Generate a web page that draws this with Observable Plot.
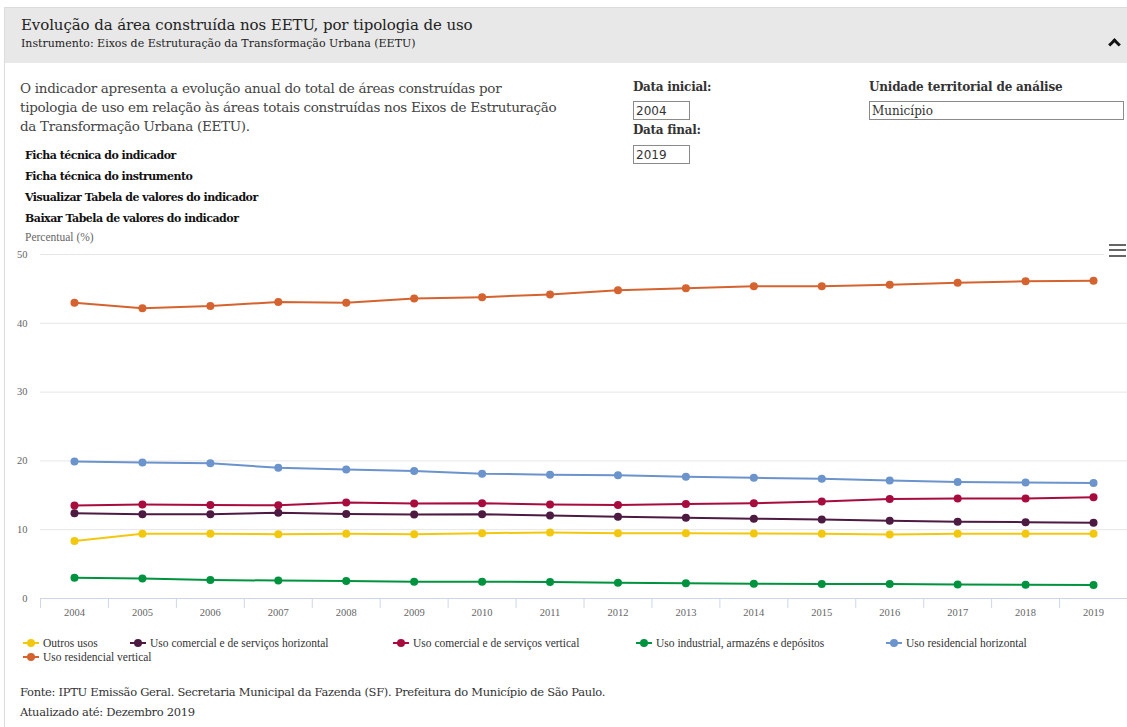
<!DOCTYPE html>
<html><head><meta charset="utf-8">
<script src="https://cdn.jsdelivr.net/npm/d3@7"></script>
<script src="https://cdn.jsdelivr.net/npm/@observablehq/plot@0.6"></script>
<style>
html,body{margin:0;padding:0;background:#fff;}
body{width:1127px;height:727px;position:relative;overflow:hidden;font-family:"DejaVu Serif",serif;}
.t{position:absolute;line-height:0;white-space:nowrap;}
#panel{position:absolute;left:4px;top:7px;width:1140px;height:730px;border-left:1px solid #dcdcdc;border-top:1px solid #dcdcdc;}
#header{position:absolute;left:5px;top:8px;width:1130px;height:55px;background:#e8e8e8;}
.box{position:absolute;border:1px solid #8a8a8a;box-sizing:border-box;height:19px;background:#fff;}
.box span{position:absolute;left:2px;top:9px;line-height:0;color:#333;}
#chev{position:absolute;left:1110px;top:40px;width:6px;height:6px;border-top:3px solid #111;border-left:3px solid #111;transform:rotate(45deg);}
#burger{position:absolute;left:1104px;top:239px;width:23px;height:22px;background:#fff;}
#burger div{position:absolute;left:5px;width:17px;height:2px;background:#666;}
#chart{position:absolute;left:0;top:244px;}
.leg{position:absolute;height:14px;}
.leg .ln{position:absolute;left:0;top:6px;width:16px;height:2px;}
.leg .dt{position:absolute;left:4px;top:3px;width:8px;height:8px;border-radius:50%;}
.leg .tx{position:absolute;left:20px;top:7px;line-height:0;white-space:nowrap;font-family:"Liberation Serif",serif;font-size:11.5px;color:#333;}
</style>
</head><body>
<div id="panel"></div>
<div id="header"></div>
<div class="t" style="left:21px;top:25px;font-size:15px;letter-spacing:-0.1px;color:#222;">Evolução da área construída nos EETU, por tipologia de uso</div>
<div class="t" style="left:21px;top:44px;font-size:11px;color:#222;">Instrumento: Eixos de Estruturação da Transformação Urbana (EETU)</div>
<div id="chev"></div>

<div class="t" style="left:20px;top:88px;font-size:13.5px;letter-spacing:-0.3px;color:#444;">O indicador apresenta a evolução anual do total de áreas construídas por</div>
<div class="t" style="left:20px;top:107px;font-size:13.5px;letter-spacing:-0.3px;color:#444;">tipologia de uso em relação às áreas totais construídas nos Eixos de Estruturação</div>
<div class="t" style="left:20px;top:126px;font-size:13.5px;letter-spacing:-0.3px;color:#444;">da Transformação Urbana (EETU).</div>

<div class="t" style="left:25px;top:156px;font-size:11px;font-weight:bold;letter-spacing:-0.5px;color:#111;">Ficha técnica do indicador</div>
<div class="t" style="left:25px;top:177px;font-size:11px;font-weight:bold;letter-spacing:-0.5px;color:#111;">Ficha técnica do instrumento</div>
<div class="t" style="left:25px;top:198px;font-size:11px;font-weight:bold;letter-spacing:-0.5px;color:#111;">Visualizar Tabela de valores do indicador</div>
<div class="t" style="left:25px;top:219px;font-size:11px;font-weight:bold;letter-spacing:-0.5px;color:#111;">Baixar Tabela de valores do indicador</div>

<div class="t" style="left:633px;top:87px;font-size:12px;font-weight:bold;letter-spacing:-0.3px;color:#333;">Data inicial:</div>
<div class="box" style="left:633px;top:101px;width:57px;"><span style="font-family:'DejaVu Sans';font-size:12px;">2004</span></div>
<div class="t" style="left:633px;top:130px;font-size:12px;font-weight:bold;letter-spacing:-0.3px;color:#333;">Data final:</div>
<div class="box" style="left:633px;top:145px;width:57px;"><span style="font-family:'DejaVu Sans';font-size:12px;">2019</span></div>
<div class="t" style="left:869px;top:87px;font-size:12px;font-weight:bold;letter-spacing:-0.2px;color:#333;">Unidade territorial de análise</div>
<div class="box" style="left:869px;top:101px;width:255px;"><span style="font-size:12px;">Município</span></div>

<div class="t" style="left:25px;top:237px;font-family:'Liberation Serif';font-size:11.5px;color:#666;">Percentual (%)</div>
<div id="chart"></div>
<div id="burger"><div style="top:5px"></div><div style="top:10px"></div><div style="top:16px"></div></div>
<div id="legend"></div>

<div class="t" style="left:20px;top:692px;font-size:11.5px;letter-spacing:-0.3px;color:#333;">Fonte: IPTU Emissão Geral. Secretaria Municipal da Fazenda (SF). Prefeitura do Município de São Paulo.</div>
<div class="t" style="left:20px;top:712px;font-size:11.5px;letter-spacing:-0.3px;color:#333;">Atualizado até: Dezembro 2019</div>

<script>
const years = [2004,2005,2006,2007,2008,2009,2010,2011,2012,2013,2014,2015,2016,2017,2018,2019];
const seriesNames = [
  "Outros usos",
  "Uso comercial e de serviços horizontal",
  "Uso comercial e de serviços vertical",
  "Uso industrial, armazéns e depósitos",
  "Uso residencial horizontal",
  "Uso residencial vertical"
];
const seriesColors = ["#f2c80f","#4d1a42","#a80b3d","#00933f","#6b93cc","#d4632f"];
const outrosUsos      = [8.35,9.4,9.4,9.35,9.4,9.35,9.5,9.6,9.5,9.5,9.45,9.4,9.3,9.4,9.4,9.4];
const comercialHoriz  = [12.4,12.25,12.25,12.45,12.3,12.2,12.25,12.05,11.9,11.75,11.6,11.5,11.3,11.15,11.1,11.0];
const comercialVert   = [13.5,13.65,13.6,13.55,13.95,13.8,13.85,13.65,13.6,13.75,13.85,14.1,14.45,14.55,14.55,14.7];
const industrial      = [3.0,2.9,2.7,2.6,2.55,2.45,2.45,2.4,2.3,2.2,2.15,2.1,2.1,2.05,2.0,1.95];
const residencialHoriz= [19.9,19.75,19.65,19.0,18.75,18.55,18.15,18.0,17.9,17.7,17.55,17.4,17.15,16.95,16.85,16.8];
const residencialVert = [43.0,42.2,42.5,43.1,43.0,43.6,43.8,44.2,44.8,45.1,45.4,45.4,45.6,45.9,46.1,46.2];
const yTicks = [0,10,20,30,40,50];

const seriesValues = [outrosUsos, comercialHoriz, comercialVert, industrial, residencialHoriz, residencialVert];
const data = seriesNames.flatMap((name, i) => seriesValues[i].map((v, j) => ({year: years[j], value: v, series: name})));
const boundaries = years.map(y => y - 0.5).concat([years[years.length - 1] + 0.5]);

const chart = Plot.plot({
  width: 1127, height: 380,
  marginTop: 10, marginBottom: 26, marginLeft: 40, marginRight: 0,
  x: {domain: [years[0] - 0.5, years[years.length - 1] + 0.5]},
  y: {domain: [0, 50]},
  color: {domain: seriesNames, range: seriesColors},
  style: {fontFamily: "Liberation Serif", fontSize: "10.5px", color: "#666", background: "transparent", overflow: "visible"},
  marks: [
    Plot.gridY({ticks: yTicks, stroke: "#e6e6e6", strokeOpacity: 1}),
    Plot.axisY({ticks: yTicks, tickSize: 0, tickPadding: 13, label: null, fill: "#666"}),
    Plot.ruleY([0], {stroke: "#ccd6eb"}),
    Plot.axisX({ticks: boundaries, tickSize: 10, tickFormat: () => "", stroke: "#ccd6eb", strokeOpacity: 1, label: null}),
    Plot.axisX({ticks: years, tickSize: 0, tickPadding: 10, tickFormat: d => String(d), label: null, fill: "#666"}),
    Plot.line(data, {x: "year", y: "value", z: "series", stroke: "series", strokeWidth: 2}),
    Plot.dot(data, {x: "year", y: "value", fill: "series", r: 4})
  ]
});
document.getElementById("chart").appendChild(chart);

// legend
const legendLayout = [[23,636],[130,636],[393,636],[636,636],[886,636],[23,650]];
const legend = document.getElementById("legend");
seriesNames.forEach((name, i) => {
  const item = document.createElement("div");
  item.className = "leg";
  item.style.left = legendLayout[i][0] + "px";
  item.style.top = legendLayout[i][1] + "px";
  item.innerHTML = `<div class="ln" style="background:${seriesColors[i]}"></div><div class="dt" style="background:${seriesColors[i]}"></div><div class="tx">${name}</div>`;
  legend.appendChild(item);
});
</script>
</body></html>
